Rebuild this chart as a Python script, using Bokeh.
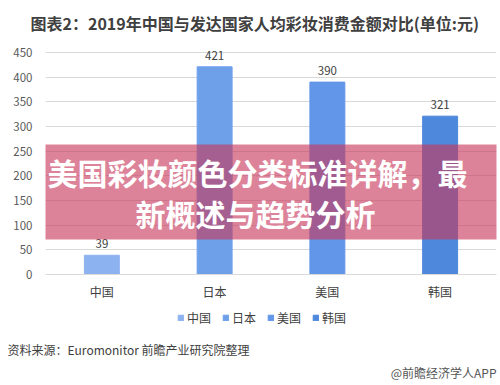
from bokeh.plotting import figure
from bokeh.models import (ColumnDataSource, FixedTicker, Label, BoxAnnotation, Legend, LegendItem, Title)
from bokeh.core.properties import value
from bokeh.embed import file_html
from bokeh.resources import INLINE

categories = ["中国", "日本", "美国", "韩国"]
values = [39, 421, 390, 321]
bar_colors = ["#8db2f0", "#6ea0ea", "#6296e8", "#4e88dc"]
y_ticks = [0, 50, 100, 150, 200, 250, 300, 350, 400, 450]
title_text = "图表2：2019年中国与发达国家人均彩妆消费金额对比(单位:元)"
banner_line1 = "美国彩妆颜色分类标准详解，最"
banner_line2 = "新概述与趋势分析"
source_text = "资料来源：Euromonitor 前瞻产业研究院整理"
brand_text = "@前瞻经济学人APP"

FONT = "Noto Sans CJK SC"

src = ColumnDataSource(dict(cat=categories, val=values, color=bar_colors,
                            lab=[str(v) for v in values]))

p = figure(x_range=categories, y_range=(-113.5, 470.3), width=500, height=385,
           output_backend="svg", toolbar_location=None,
           min_border_left=45, min_border_right=4, min_border_top=42, min_border_bottom=55)
p.outline_line_color = None
p.background_fill_color = "white"

p.title.text = title_text
p.title.align = "left"
p.title.offset = -15
p.title.standoff = 15
p.title.text_font = FONT
p.title.text_font_size = "16px"
p.title.text_font_style = "bold"
p.title.text_color = "#404040"

r = p.vbar(x="cat", top="val", width=0.31, color="color", source=src)

p.text(x="cat", y="val", text="lab", source=src, text_align="center", text_baseline="bottom",
       y_offset=-7, text_font=value(FONT), text_font_size="11.5px", text_color="#404040")

p.xgrid.grid_line_color = None
p.ygrid.grid_line_color = "#d9d9d9"
p.ygrid.ticker = FixedTicker(ticks=y_ticks)

p.yaxis.ticker = FixedTicker(ticks=y_ticks)
p.yaxis.axis_line_color = None
p.yaxis.major_tick_line_color = None
p.yaxis.minor_tick_line_color = None
p.yaxis.major_label_standoff = 7
p.yaxis.major_label_text_font = FONT
p.yaxis.major_label_text_font_size = "11.5px"
p.yaxis.major_label_text_color = "#595959"

p.xaxis.fixed_location = 0
p.xaxis.axis_line_color = "#d9d9d9"
p.xaxis.major_tick_line_color = None
p.xaxis.minor_tick_line_color = None
p.xaxis.major_label_standoff = 2
p.xaxis.major_label_text_font = FONT
p.xaxis.major_label_text_font_size = "12px"
p.xaxis.major_label_text_color = "#404040"

items = [LegendItem(label=c, renderers=[r], index=i) for i, c in enumerate(categories)]
legend = Legend(items=items, orientation="horizontal", location=(132, 4),
                glyph_width=7, glyph_height=7, label_standoff=3, spacing=11,
                label_height=16, label_width=10, padding=0, margin=0,
                border_line_color=None, background_fill_alpha=0,
                label_text_font=FONT, label_text_font_size="12px", label_text_color="#404040")
p.add_layout(legend, "center")

p.add_layout(Title(text=source_text, align="left", offset=-38, standoff=16, text_font=FONT,
                   text_font_size="12px", text_font_style="normal", text_color="#404040"), "below")
p.add_layout(Title(text=brand_text, align="right", offset=0, standoff=-7, text_font=FONT,
                   text_font_size="12px", text_font_style="normal", text_color="#555555"), "below")

p.add_layout(BoxAnnotation(left=-50, right=460, bottom=91, top=186,
                           left_units="screen", right_units="screen",
                           bottom_units="screen", top_units="screen",
                           fill_color="#c8375a", fill_alpha=0.62, line_color=None))

p.add_layout(Label(x=212, y=159, x_units="screen", y_units="screen", text=banner_line1,
                   text_align="center", text_baseline="middle", text_font=FONT,
                   text_font_size="30px", text_font_style="bold", text_color="white"))
p.add_layout(Label(x=210, y=118, x_units="screen", y_units="screen", text=banner_line2,
                   text_align="center", text_baseline="middle", text_font=FONT,
                   text_font_size="30px", text_font_style="bold", text_color="white"))

open("out.html", "w").write(file_html(p, INLINE))
